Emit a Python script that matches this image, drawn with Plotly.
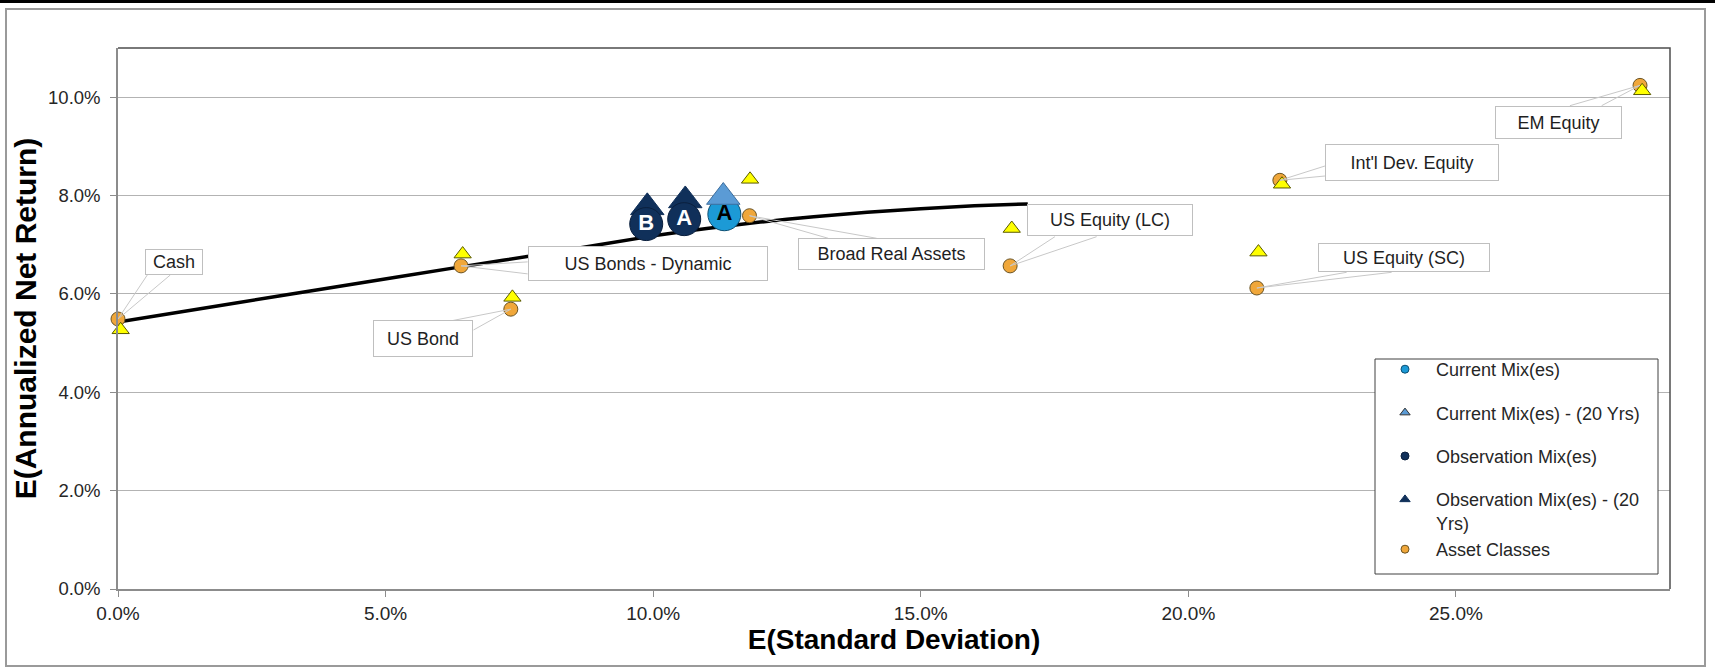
import plotly.graph_objects as go

# ---------------- data ----------------
asset_names = ["Cash", "US Bonds - Dynamic", "US Bond", "Broad Real Assets",
               "US Equity (LC)", "US Equity (SC)", "Int'l Dev. Equity", "EM Equity"]
asset_sd = [0.0000, 0.0641, 0.0734, 0.1180, 0.1667, 0.2128, 0.2171, 0.2844]
asset_ret = [0.0549, 0.0657, 0.0569, 0.0759, 0.0657, 0.0612, 0.0831, 0.1024]
asset_sd_20 = [0.0005, 0.0644, 0.0737, 0.1181, 0.1670, 0.2131, 0.2175, 0.2848]
asset_ret_20 = [0.0527, 0.0681, 0.0593, 0.0833, 0.0733, 0.0685, 0.0823, 0.1013]

frontier_sd = [0.0, 0.02, 0.04, 0.064, 0.08, 0.10, 0.11, 0.12, 0.13, 0.14, 0.15, 0.16, 0.17]
frontier_ret = [0.0543, 0.0578, 0.0613, 0.0655, 0.0682, 0.0718, 0.0733, 0.0746,
                0.0757, 0.0766, 0.0773, 0.0779, 0.0783]

obs_labels = ["B", "A"]
obs_sd = [0.0987, 0.1058]
obs_ret = [0.0742, 0.0752]
obs_sd_20 = [0.0989, 0.1060]
obs_ret_20 = [0.0776, 0.0790]

cur_labels = ["A"]
cur_sd = [0.1133]
cur_ret = [0.0762]
cur_sd_20 = [0.1131]
cur_ret_20 = [0.0797]

legend_names = ["Current Mix(es)", "Current Mix(es) - (20 Yrs)", "Observation Mix(es)",
                "Observation Mix(es) - (20<br>Yrs)", "Asset Classes"]

x_ticks = [0.0, 0.05, 0.10, 0.15, 0.20, 0.25]
y_ticks = [0.0, 0.02, 0.04, 0.06, 0.08, 0.10]

# ---------------- layout geometry / styles ----------------
W, H = 1715, 667
ML, MR, MT, MB = 118, 45, 48, 78
PW, PH = W - ML - MR, H - MT - MB


def pxx(px):
    return (px - ML) / PW


def pxy(py):
    return (H - MB - py) / PH


FONT = "Arial, Liberation Sans, sans-serif"
NAVY = "#10305A"
CUR_BLUE = "#1C9AD6"
CUR_TRI = "#5B9BD5"
ORANGE = "#F0A73A"
YELLOW = "#FFFF00"

# label callouts: box centre offset (px, +up), box size, wedge base points (px offsets, +up)
label_dx = [55.8, 186.6, -87.4, 141.9, 99.5, 147.6, 132.3, -81.1]
label_dy = [56.8, 2.6, -29.8, -38.5, 45.4, 30.2, 18.0, -37.0]
label_w = [58, 240, 100, 187, 166, 172, 174, 127]
label_h = [26, 35, 37, 32, 32, 29, 37, 33]
wedge_a = [(29.3, 44.0), (66.6, 4.0), (-58.8, -11.5), (78.8, -22.6),
           (44.8, 29.2), (89.8, 15.7), (45.1, 14.3), (-70.1, -20.3)]
wedge_b = [(52.3, 44.0), (66.6, -8.0), (-37.3, -20.8), (127.2, -22.6),
           (86.5, 29.2), (134.8, 15.7), (45.1, 4.3), (-38.4, -20.3)]

fig = go.Figure()

# efficient frontier
fig.add_trace(go.Scatter(x=frontier_sd, y=frontier_ret, mode="lines",
                         line=dict(color="black", width=3.5, shape="spline", smoothing=0.6),
                         showlegend=False, cliponaxis=False, hoverinfo="skip"))

# asset classes
fig.add_trace(go.Scatter(x=asset_sd, y=asset_ret, mode="markers", text=asset_names,
                         marker=dict(symbol="circle", size=14, color=ORANGE,
                                     line=dict(color="#6B5424", width=1)),
                         showlegend=False, cliponaxis=False))
fig.add_trace(go.Scatter(x=asset_sd_20, y=asset_ret_20, mode="markers", text=asset_names,
                         marker=dict(symbol="triangle-up", size=15, color=YELLOW,
                                     line=dict(color="#5A5A00", width=1)),
                         showlegend=False, cliponaxis=False))

# observation mixes
fig.add_trace(go.Scatter(x=obs_sd_20, y=obs_ret_20, mode="markers",
                         marker=dict(symbol="triangle-up", size=29, color=NAVY,
                                     line=dict(color=NAVY, width=1)),
                         showlegend=False, cliponaxis=False))
fig.add_trace(go.Scatter(x=obs_sd, y=obs_ret, mode="markers+text", text=obs_labels,
                         textposition="middle center",
                         textfont=dict(family=FONT, size=22, color="white", weight="bold"),
                         marker=dict(symbol="circle", size=33, color=NAVY,
                                     line=dict(color="#0A1F3D", width=1)),
                         showlegend=False, cliponaxis=False))

# current mix
fig.add_trace(go.Scatter(x=cur_sd, y=cur_ret, mode="markers",
                         marker=dict(symbol="circle", size=33, color=CUR_BLUE,
                                     line=dict(color="#0D4F73", width=1)),
                         showlegend=False, cliponaxis=False))
fig.add_trace(go.Scatter(x=cur_sd_20, y=cur_ret_20, mode="markers",
                         marker=dict(symbol="triangle-up", size=29, color=CUR_TRI,
                                     line=dict(color="#3D6E9E", width=1)),
                         showlegend=False, cliponaxis=False))
fig.add_trace(go.Scatter(x=cur_sd, y=cur_ret, mode="text", text=cur_labels,
                         textposition="middle center",
                         textfont=dict(family=FONT, size=22, color="black", weight="bold"),
                         showlegend=False, cliponaxis=False))

# legend-only entries (small symbols as in the reference)
leg_markers = [
    dict(symbol="circle", size=8, color=CUR_BLUE, line=dict(color="#0D4F73", width=1)),
    dict(symbol="triangle-up", size=9, color=CUR_TRI, line=dict(color="#333333", width=1)),
    dict(symbol="circle", size=8, color=NAVY, line=dict(color="#0A1F3D", width=1)),
    dict(symbol="triangle-up", size=9, color=NAVY, line=dict(color=NAVY, width=1)),
    dict(symbol="circle", size=8, color=ORANGE, line=dict(color="#6B5424", width=1)),
]
leg_groups = ["g1", "g2", "g3", "g4", "g4"]
for name, mk, grp in zip(legend_names, leg_markers, leg_groups):
    fig.add_trace(go.Scatter(x=[None], y=[None], mode="markers", name=name,
                             marker=mk, legendgroup=grp, showlegend=True))

# ---------------- shapes ----------------
shapes = []
# outer frame + top dark band
shapes.append(dict(type="rect", xref="paper", yref="paper",
                   x0=pxx(6), x1=pxx(1705), y0=pxy(666), y1=pxy(9),
                   line=dict(color="#9A9A9A", width=2), fillcolor="rgba(0,0,0,0)", layer="below"))
shapes.append(dict(type="rect", xref="paper", yref="paper",
                   x0=pxx(0), x1=pxx(W), y0=pxy(3), y1=pxy(0),
                   line=dict(width=0), fillcolor="black", layer="above"))
# plot-area top/right border
shapes.append(dict(type="path", xref="paper", yref="paper",
                   path="M 0,1 L 1,1 L 1,0", line=dict(color="#4D4D4D", width=1.5), layer="above"))
# legend box
shapes.append(dict(type="rect", xref="paper", yref="paper",
                   x0=pxx(1375), x1=pxx(1658), y0=pxy(574), y1=pxy(359),
                   line=dict(color="#404040", width=1), fillcolor="white", layer="above"))
# callout wedges
for i in range(len(asset_names)):
    (ax1, ay1), (ax2, ay2) = wedge_a[i], wedge_b[i]
    shapes.append(dict(type="path", xref="x", yref="y", xsizemode="pixel", ysizemode="pixel",
                       xanchor=asset_sd[i], yanchor=asset_ret[i],
                       path=f"M {ax1},{ay1} L 0,0 L {ax2},{ay2}",
                       line=dict(color="#C8C8C8", width=1), layer="above"))

# ---------------- label annotations ----------------
annotations = []
for i, name in enumerate(asset_names):
    annotations.append(dict(
        text=name, x=asset_sd[i], y=asset_ret[i], xref="x", yref="y",
        showarrow=False, xanchor="center", yanchor="middle",
        xshift=label_dx[i], yshift=label_dy[i],
        width=label_w[i] - 2, height=label_h[i] - 2,
        align="center", valign="middle",
        bgcolor="white", bordercolor="#BFBFBF", borderwidth=1, borderpad=0,
        font=dict(family=FONT, size=18, color="#1F1F1F")))

fig.update_layout(
    width=W, height=H,
    margin=dict(l=ML, r=MR, t=MT, b=MB, autoexpand=False),
    paper_bgcolor="white", plot_bgcolor="white",
    font=dict(family=FONT, color="#262626"),
    shapes=shapes, annotations=annotations,
    showlegend=True,
    legend=dict(x=pxx(1374), y=pxy(351), xanchor="left", yanchor="top",
                bgcolor="rgba(0,0,0,0)", borderwidth=0,
                font=dict(family=FONT, size=18, color="#262626"),
                tracegroupgap=17, itemwidth=52, valign="top", traceorder="grouped"),
    xaxis=dict(range=[0, 0.29], tickvals=x_ticks, tickformat=".1%",
               ticks="outside", ticklen=6, tickcolor="#8C8C8C",
               showgrid=False, zeroline=False, showline=True,
               linecolor="#8C8C8C", linewidth=1.5,
               tickfont=dict(family=FONT, size=19, color="#262626"),
               title=dict(text="E(Standard Deviation)", standoff=4,
                          font=dict(family=FONT, size=28, color="black", weight="bold"))),
    yaxis=dict(range=[0, 0.11], tickvals=y_ticks, tickformat=".1%",
               ticks="outside", ticklen=6, tickcolor="#8C8C8C", ticklabelstandoff=6,
               showgrid=True, gridcolor="#B3B3B3", gridwidth=1,
               zeroline=False, showline=True, linecolor="#8C8C8C", linewidth=1.5,
               tickfont=dict(family=FONT, size=18.5, color="#262626"),
               title=dict(text="E(Annualized Net Return)", standoff=3,
                          font=dict(family=FONT, size=30, color="black", weight="bold"))),
)

fig.write_html("out.html", config={"displayModeBar": False},
               post_script="document.body.style.margin='0px';document.body.style.overflow='hidden';")
